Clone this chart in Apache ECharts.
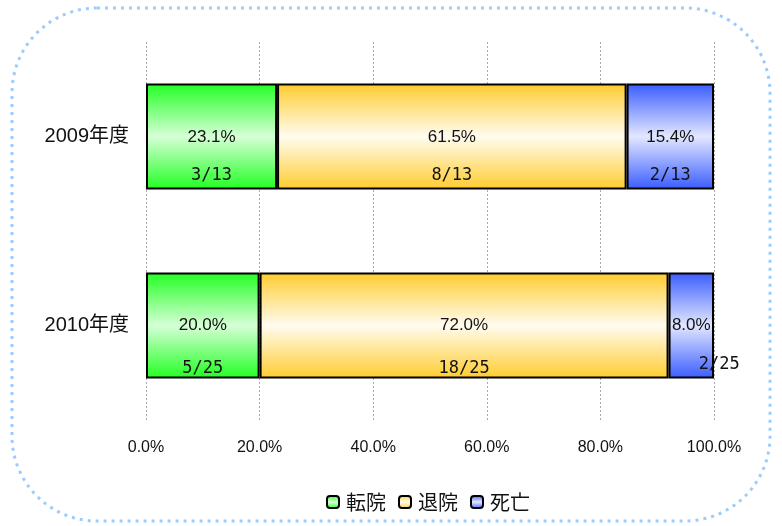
<!DOCTYPE html>
<html>
<head>
<meta charset="utf-8">
<script src="https://cdn.jsdelivr.net/npm/echarts@6/dist/echarts.min.js"></script>
<style>
  html, body { margin: 0; padding: 0; background: #fff; }
  #chart { width: 782px; height: 526px; }
</style>
</head>
<body>
<div id="chart"></div>
<script>
// Fiscal years shown as rows
const years = ['2009年度', '2010年度'];
// Outcome names (legend order)
const outcomes = ['転院', '退院', '死亡'];
// Patient counts per outcome and year
const transferCounts = [3, 5];
const dischargeCounts = [8, 18];
const deathCounts = [2, 2];
const totals = [13, 25];
// X axis tick labels
const xTicks = [0, 20, 40, 60, 80, 100];

const CJK = '"Noto Sans CJK JP"';
const SANS = '"Liberation Sans", ' + CJK + ', sans-serif';
const MONO = '"DejaVu Sans Mono", "Liberation Mono", ' + CJK + ', monospace';

function vGrad(edge, mid) {
  return new echarts.graphic.LinearGradient(0, 0, 0, 1, [
    { offset: 0, color: edge },
    { offset: 0.5, color: mid },
    { offset: 1, color: edge }
  ]);
}

const fills = [
  vGrad('#22ff22', '#d6ffd6'),
  vGrad('#ffcc2e', '#fffcf0'),
  vGrad('#3a5cff', '#e2e7ff')
];
const countSets = [transferCounts, dischargeCounts, deathCounts];

// per-row label placement: gap under the fraction and height of the percent line
const rowLabelLayout = [
  { distance: 4, pLine: 56 },
  { distance: 0, pLine: 66 }
];

function buildSeries(i) {
  const counts = countSets[i];
  return {
    name: outcomes[i],
    type: 'bar',
    stack: 'total',
    barWidth: '56%',
    itemStyle: { color: fills[i], borderColor: '#000', borderWidth: 2 },
    data: counts.map((c, k) => {
      const lay = rowLabelLayout[k];
      const pStyle = { lineHeight: lay.pLine };
      const fStyle = {};
      // the narrow 2010 death segment has its fraction pushed to the right and up
      if (i === 2 && k === 1) {
        fStyle.padding = [0, 0, 0, 56];
        fStyle.lineHeight = 28;
        pStyle.lineHeight = 50;
      }
      return {
        value: c / totals[k] * 100,
        count: c,
        total: totals[k],
        label: {
          distance: lay.distance,
          rich: { p: pStyle, f: fStyle }
        }
      };
    }),
    label: {
      show: true,
      position: 'insideBottom',
      color: '#111',
      formatter: p => '{p|' + p.value.toFixed(1) + '%}\n{f|' + p.data.count + '/' + p.data.total + '}',
      rich: {
        p: { fontSize: 17, fontFamily: SANS, color: '#111', lineHeight: 56 },
        f: { fontSize: 17, fontFamily: MONO, color: '#111', lineHeight: 20 }
      }
    }
  };
}

const chart = echarts.init(document.getElementById('chart'));
chart.setOption({
  animation: false,
  backgroundColor: '#fff',
  graphic: [{
    type: 'rect',
    shape: { x: 12, y: 8, width: 758, height: 513, r: 85 },
    style: { fill: 'none', stroke: '#9ccbff', lineWidth: 3, lineDash: [3, 5] },
    z: -1
  }],
  legend: {
    top: 487,
    left: 321,
    itemWidth: 12,
    itemHeight: 12,
    itemGap: 12,
    data: outcomes.map((n, i) => ({
      name: n,
      itemStyle: { color: fills[i], borderColor: '#000', borderWidth: 2 }
    })),
    textStyle: { fontSize: 20, fontFamily: CJK, color: '#111', padding: [0, 0, 0, 2] }
  },
  grid: { left: 146, right: 68, top: 42, bottom: 106, containLabel: false },
  xAxis: {
    type: 'value',
    min: xTicks[0],
    max: xTicks[xTicks.length - 1],
    interval: 20,
    axisLine: { show: false },
    axisTick: { show: false },
    axisLabel: {
      margin: 20,
      fontSize: 16,
      fontFamily: SANS,
      color: '#111',
      formatter: v => v.toFixed(1) + '%'
    },
    splitLine: { show: true, lineStyle: { color: '#aaa', type: [2, 2], width: 1 } }
  },
  yAxis: {
    type: 'category',
    inverse: true,
    data: years,
    axisLine: { show: false },
    axisTick: { show: false },
    axisLabel: { margin: 17, fontSize: 20, fontFamily: SANS, color: '#111' }
  },
  series: [0, 1, 2].map(buildSeries)
});
</script>
</body>
</html>
